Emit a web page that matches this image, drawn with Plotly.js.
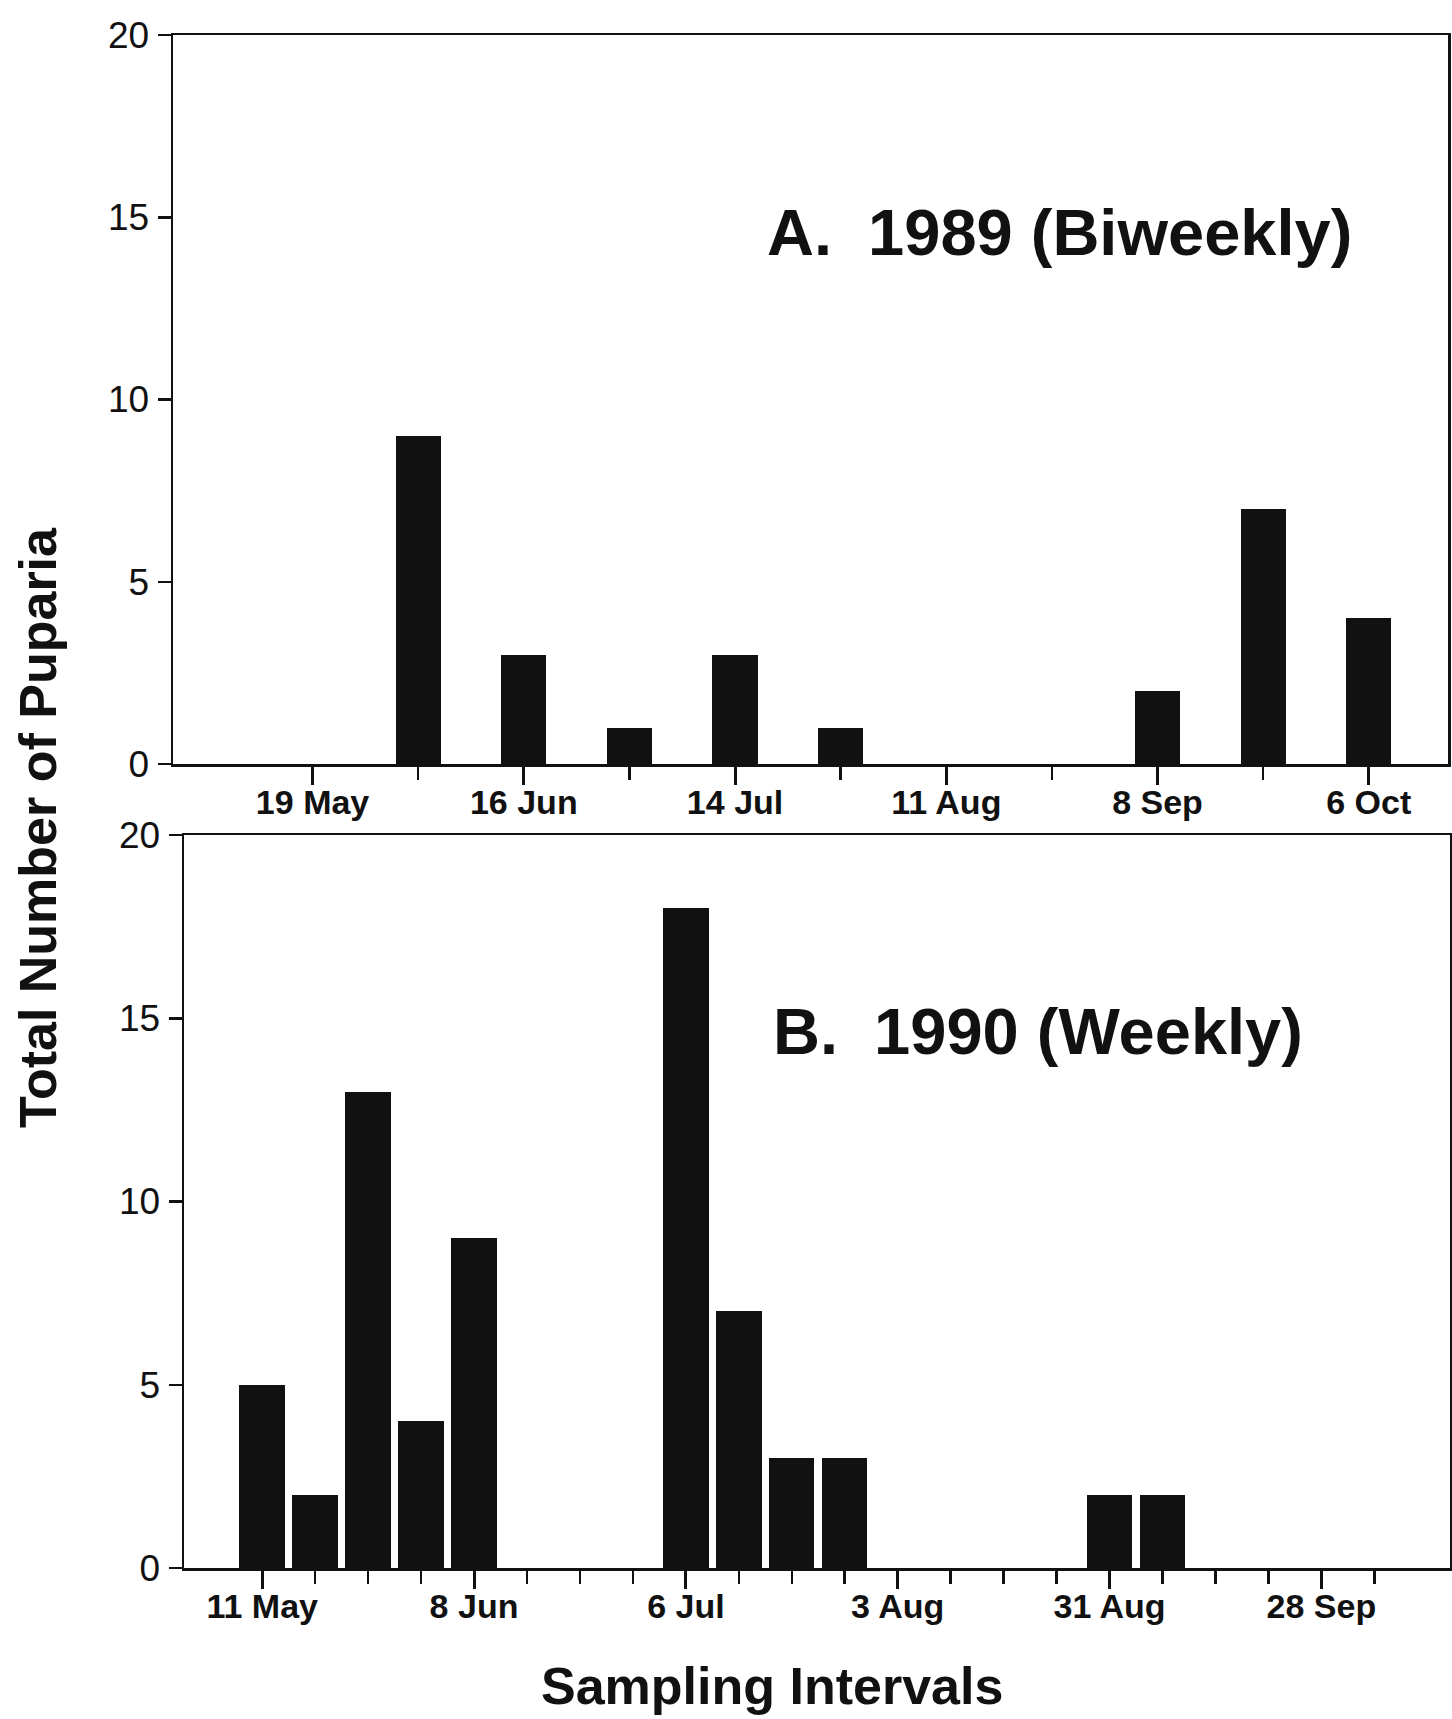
<!DOCTYPE html>
<html>
<head>
<meta charset="utf-8">
<script src="https://cdn.plot.ly/plotly-3.0.1.min.js"></script>
<style>html,body{margin:0;padding:0;background:#fff;}</style>
</head>
<body>
<div id="chart" style="width:1452px;height:1719px;"></div>
<script>
// ---- Data ----
var dates1989 = ['1989-05-19','1989-06-02','1989-06-16','1989-06-30','1989-07-14','1989-07-28','1989-08-11','1989-08-25','1989-09-08','1989-09-22','1989-10-06'];
var counts1989 = [0, 9, 3, 1, 3, 1, 0, 0, 2, 7, 4];
var tickDates1989 = ['1989-05-19','1989-06-16','1989-07-14','1989-08-11','1989-09-08','1989-10-06'];
var tickLabels1989 = ['19 May','16 Jun','14 Jul','11 Aug','8 Sep','6 Oct'];

var dates1990 = ['1990-05-11','1990-05-18','1990-05-25','1990-06-01','1990-06-08','1990-06-15','1990-06-22','1990-06-29','1990-07-06','1990-07-13','1990-07-20','1990-07-27','1990-08-03','1990-08-10','1990-08-17','1990-08-24','1990-08-31','1990-09-07','1990-09-14','1990-09-21','1990-09-28','1990-10-05'];
var counts1990 = [5, 2, 13, 4, 9, 0, 0, 0, 18, 7, 3, 3, 0, 0, 0, 0, 2, 2, 0, 0, 0, 0];
var tickDates1990 = ['1990-05-11','1990-06-08','1990-07-06','1990-08-03','1990-08-31','1990-09-28'];
var tickLabels1990 = ['11 May','8 Jun','6 Jul','3 Aug','31 Aug','28 Sep'];

var yTicks = [0, 5, 10, 15, 20];
var panelLabelA = 'A.\u00A0\u00A01989 (Biweekly)';
var panelLabelB = 'B.\u00A0\u00A01990 (Weekly)';
var yTitle = 'Total Number of Puparia';
var xTitle = 'Sampling Intervals';

// ---- Styling ----
var DAY = 86400000;
var W = 1452, H = 1719;
var FONT = 'Liberation Sans, Arial, Helvetica, sans-serif';
var INK = '#111111';

function px(x){ return x / W; }
function py(y){ return 1 - y / H; }

var traces = [
  {type:'bar', x: dates1989, y: counts1989, xaxis:'x', yaxis:'y',
   width: 6*DAY, marker:{color:INK, line:{width:0}}, hoverinfo:'x+y'},
  {type:'bar', x: dates1990, y: counts1990, xaxis:'x2', yaxis:'y2',
   width: 6*DAY, marker:{color:INK, line:{width:0}}, hoverinfo:'x+y'}
];

function xAxis(domain, range, tickv, tickt, minorv, anchor){
  return {
    type:'date', domain: domain, range: range, anchor: anchor,
    tickmode:'array', tickvals: tickv, ticktext: tickt,
    ticks:'outside', ticklen: 18, tickwidth: 3, tickcolor: INK,
    minor:{ticks:'outside', ticklen: 13, tickwidth: 2.5, tickcolor: INK,
           tickmode:'array', tickvals: minorv},
    showline:true, linecolor: INK, linewidth: 2.5, mirror:true,
    showgrid:false, zeroline:false,
    ticklabelstandoff: -11,
    tickfont:{family: FONT, size: 34, color: INK, weight: 'bold'},
    fixedrange:true
  };
}
function yAxis(domain, anchor){
  return {
    domain: domain, range:[0, 20], anchor: anchor,
    tickmode:'array', tickvals: yTicks,
    ticks:'outside', ticklen: 13, tickwidth: 2.5, tickcolor: INK,
    showline:true, linecolor: INK, linewidth: 2.5, mirror:true,
    showgrid:false, zeroline:false,
    ticklabelstandoff: 1,
    tickfont:{family: FONT, size: 37, color: INK},
    fixedrange:true
  };
}

var layout = {
  width: W, height: H, autosize:false,
  margin:{l:0, r:0, t:0, b:0, pad:0},
  paper_bgcolor:'#ffffff', plot_bgcolor:'#ffffff',
  showlegend:false, bargap:0,
  xaxis: xAxis([px(173), px(1448)], ['1989-04-30 12:00','1989-10-16 12:00'], tickDates1989, tickLabels1989, dates1989, 'y'),
  yaxis: yAxis([py(764), py(35)], 'x'),
  xaxis2: xAxis([px(184), px(1450)], ['1990-04-30 16:00','1990-10-15'], tickDates1990, tickLabels1990, dates1990, 'y2'),
  yaxis2: yAxis([py(1568), py(835)], 'x2'),
  annotations:[
    {text: panelLabelA, xref:'paper', yref:'paper', x: px(765), y: py(232),
     xanchor:'left', yanchor:'middle', showarrow:false,
     font:{family: FONT, size: 65, color: INK, weight:'bold'}},
    {text: panelLabelB, xref:'paper', yref:'paper', x: px(771), y: py(1031),
     xanchor:'left', yanchor:'middle', showarrow:false,
     font:{family: FONT, size: 65, color: INK, weight:'bold'}},
    {text: yTitle, xref:'paper', yref:'paper', x: px(38), y: py(828),
     xanchor:'center', yanchor:'middle', showarrow:false, textangle:-90,
     font:{family: FONT, size: 52, color: INK, weight:'bold'}},
    {text: xTitle, xref:'paper', yref:'paper', x: px(772), y: py(1686),
     xanchor:'center', yanchor:'middle', showarrow:false,
     font:{family: FONT, size: 52, color: INK, weight:'bold'}}
  ]
};

Plotly.newPlot('chart', traces, layout, {displayModeBar:false, staticPlot:true});
</script>
</body>
</html>
